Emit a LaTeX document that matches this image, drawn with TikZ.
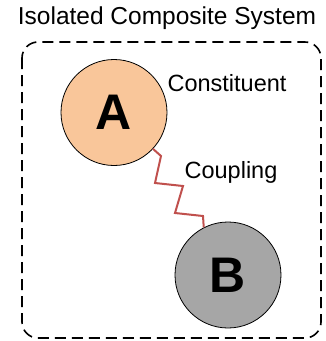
\documentclass[tikz,border=0pt]{standalone}
\usepackage{fontspec}
\setmainfont{Liberation Sans}
\definecolor{peach}{HTML}{F9C69A}
\definecolor{greyB}{HTML}{A6A6A6}
\definecolor{zig}{HTML}{C0504D}
\begin{document}
\begin{tikzpicture}[x=1pt,y=-1pt,
  ball/.style={circle,draw=black,line width=0.8pt,minimum size=106pt,inner sep=0pt,font=\fontsize{50}{50}\selectfont\bfseries},
  lbl/.style={font=\fontsize{23.5}{24}\selectfont,inner sep=0pt},
  spring/.style={draw=zig,line width=2pt,line join=miter}]
\useasboundingbox (0,0) rectangle (326,341);
\node[lbl,font=\fontsize{24.5}{25}\selectfont] (title) at (167,18) {Isolated Composite System};
\draw[dashed,dash pattern=on 11pt off 6pt,line width=1.6pt,rounded corners=16pt] (22,42) rectangle (321,338);
\node[ball,fill=peach] (A) at (114,112.5) {A};
\node[ball,fill=greyB] (B) at (228,275) {B};
\node[lbl] (cons) at (227,83) {Constituent};
\node[lbl] (coup) at (231,172) {Coupling};
\coordinate (s1) at (161,156);
\coordinate (s2) at (155,183);
\coordinate (s3) at (183,186);
\coordinate (s4) at (175,213);
\coordinate (s5) at (203,216);
\draw[spring] (A.-43) -- (s1) -- (s2) -- (s3) -- (s4) -- (s5) -- (B.117);
\end{tikzpicture}
\end{document}
